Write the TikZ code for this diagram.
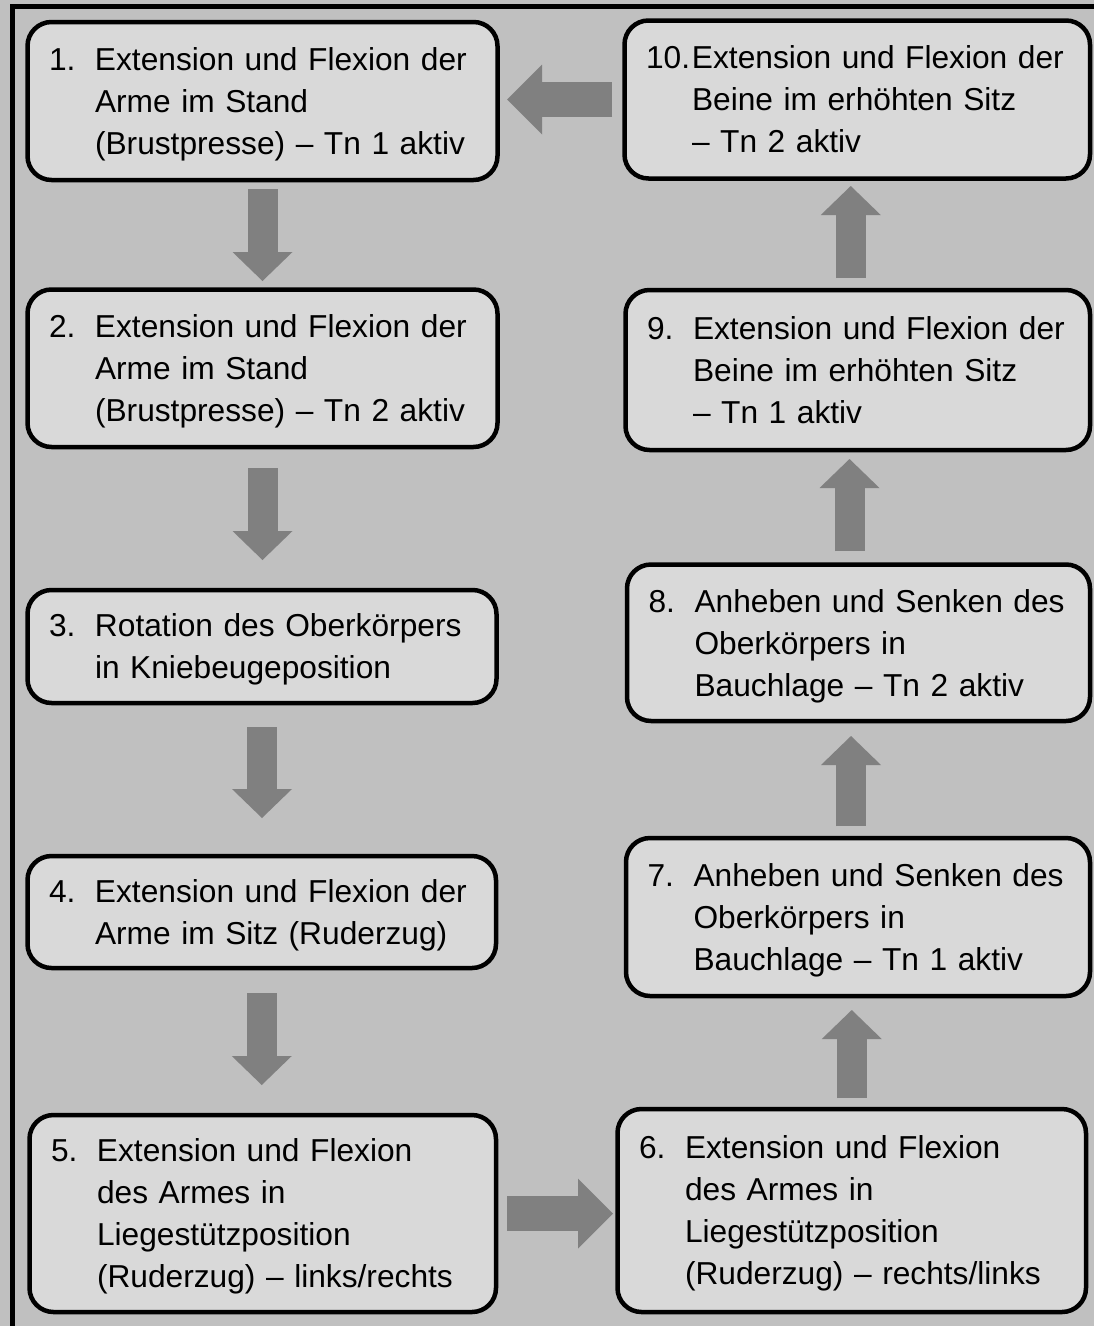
\documentclass[tikz,border=0pt]{standalone}
\usepackage{fontspec}
\setmainfont{Liberation Sans}
\usetikzlibrary{arrows.meta}
\definecolor{bggray}{HTML}{C0C0C0}
\definecolor{boxgray}{HTML}{D9D9D9}
\definecolor{arrowgray}{HTML}{808080}
\newcommand{\stagetext}[2]{\noindent\hspace*{2.5pt}\makebox[46pt][l]{#1}\begin{tabular}[t]{@{}l@{}}#2\\[-6pt]\end{tabular}}
\tikzset{
  stagebox/.style={draw=black, line width=4.5pt, fill=boxgray, rounded corners=24pt,
    inner xsep=19pt, inner ysep=0pt, outer sep=0pt, align=left, anchor=north west,
    font=\fontsize{31.7}{42}\selectfont},
  vflow/.style={draw=arrowgray, line width=30pt, -{Triangle[length=29pt, width=60pt, line width=0pt 0]}},
  hflow/.style={draw=arrowgray, line width=35pt, -{Triangle[length=35pt, width=70pt, line width=0pt 0]}}
}
\begin{document}
\begin{tikzpicture}[x=1pt, y=-1pt]
	\useasboundingbox (0,0) rectangle (1094,1326);
	\fill[bggray] (0,0) rectangle (1094,1326);
	\draw[line width=4.5pt] (12.5,1326) -- (12.5,6.5) -- (1094,6.5);
	
	\node[stagebox, text width=432pt, minimum height=158pt](b1) at (27.5,22)
		{\stagetext{1.}{Extension und Flexion der\\Arme im Stand\\(Brustpresse) – Tn 1 aktiv}};
	\node[stagebox, text width=432pt, minimum height=157.5pt](b2) at (27.5,289.5)
		{\stagetext{2.}{Extension und Flexion der\\Arme im Stand\\(Brustpresse) – Tn 2 aktiv}};
	\node[stagebox, text width=431pt, minimum height=113pt](b3) at (27.5,590)
		{\stagetext{3.}{Rotation des Oberkörpers\\in Kniebeugeposition}};
	\node[stagebox, text width=430.5pt, minimum height=112pt](b4) at (27.5,856)
		{\stagetext{4.}{Extension und Flexion der\\Arme im Sitz (Ruderzug)}};
	\node[stagebox, text width=428.5pt, minimum height=197pt](b5) at (29.5,1115)
		{\stagetext{5.}{Extension und Flexion\\des Armes in\\Liegestützposition\\(Ruderzug) – links/rechts}};
	
	\node[stagebox, text width=430.5pt, minimum height=203pt](b6) at (617.5,1109)
		{\stagetext{6.}{Extension und Flexion\\des Armes in\\Liegestützposition\\(Ruderzug) – rechts/links}};
	\node[stagebox, text width=426pt, minimum height=158pt](b7) at (626,838)
		{\stagetext{7.}{Anheben und Senken des\\Oberkörpers in\\Bauchlage – Tn 1 aktiv}};
	\node[stagebox, text width=425pt, minimum height=156.5pt](b8) at (627,564.5)
		{\stagetext{8.}{Anheben und Senken des\\Oberkörpers in\\Bauchlage – Tn 2 aktiv}};
	\node[stagebox, text width=426.5pt, minimum height=160pt](b9) at (625.5,290)
		{\stagetext{9.}{Extension und Flexion der\\Beine im erhöhten Sitz\\– Tn 1 aktiv}};
	\node[stagebox, text width=427.5pt, minimum height=158pt](b10) at (624.5,20.5)
		{\stagetext{10.}{Extension und Flexion der\\Beine im erhöhten Sitz\\– Tn 2 aktiv}};
	
	\draw[vflow, shorten <=9pt, shorten >=8.5pt] (b1.south) -- (b1.south |- b2.north);
	\draw[vflow, shorten <=21pt, shorten >=30pt] (b2.south) -- (b2.south |- b3.north);
	\draw[vflow, shorten <=24pt, shorten >=38pt] (b3.south) -- (b3.south |- b4.north);
	\draw[vflow, shorten <=25pt, shorten >=30pt] (b4.south) -- (b4.south |- b5.north);
	\draw[hflow, shorten <=11pt, shorten >=4.5pt] (b5.east) -- (b5.east -| b6.west);
	\draw[vflow, shorten <=11pt, shorten >=14pt] (b6.north) -- (b6.north |- b7.south);
	\draw[vflow, shorten <=12pt, shorten >=15pt] ([xshift=-7pt]b7.north) -- ([xshift=-7pt]b7.north |- b8.south);
	\draw[vflow, shorten <=13.5pt, shorten >=9pt] ([xshift=-9pt]b8.north) -- ([xshift=-9pt]b8.north |- b9.south);
	\draw[vflow, shorten <=12pt, shorten >=7.5pt] ([xshift=-7pt]b9.north) -- ([xshift=-7pt]b9.north |- b10.south);
	\draw[hflow, shorten <=12.5pt, shorten >=9.5pt] (b10.west) -- (b10.west -| b1.east);
\end{tikzpicture}
\end{document}
